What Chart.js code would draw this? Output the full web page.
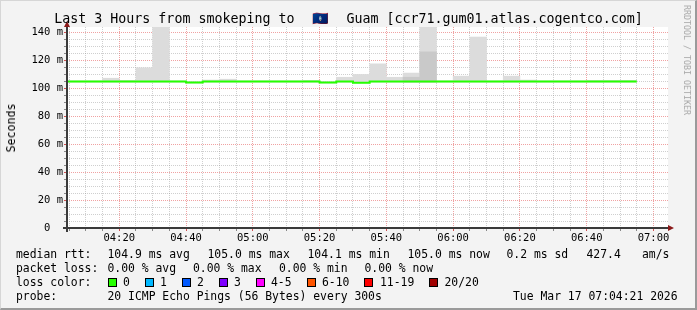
<!DOCTYPE html>
<html>
<head>
<meta charset="utf-8">
<script src="https://cdn.jsdelivr.net/npm/chart.js@4.4.1/dist/chart.umd.min.js"></script>
<style>
  html, body { margin:0; padding:0; }
  body { width:697px; height:310px; overflow:hidden; position:relative; background:#f3f3f3; font-family:"DejaVu Sans Mono", monospace; }
  #c { position:absolute; left:0; top:0; }
  .txt { position:absolute; white-space:pre; color:#000; font-size:11.4px; line-height:14px; }
  #title { position:absolute; left:0; top:11px; width:697px; text-align:center; font-size:13.3px; line-height:16px; white-space:pre; color:#000; }
  #flag { display:inline-block; width:36px; text-align:center; }
  .sq { position:absolute; width:9px; height:9px; box-sizing:border-box; border:1px solid #000; }
  #ylab { position:absolute; left:11px; top:127.5px; transform:translate(-50%,-50%) rotate(-90deg); font-size:11.6px; white-space:pre; color:#000; }
  #wm { position:absolute; left:687px; top:60px; transform:translate(-50%,-50%) rotate(90deg); font-size:8.3px; color:#a8a8a8; white-space:pre; }
  #frame { position:absolute; left:0; top:0; width:697px; height:310px; box-sizing:border-box; border-top:1px solid #d6d6d6; border-left:1px solid #d6d6d6; border-right:2px solid #9a9a9a; border-bottom:2px solid #9a9a9a; pointer-events:none; }
</style>
</head>
<body>
<canvas id="c" width="697" height="310"></canvas>
<div id="title">Last 3 Hours from smokeping to <span id="flag">🇬🇺</span> Guam [ccr71.gum01.atlas.cogentco.com]</div>
<div id="ylab">Seconds</div>
<div id="wm">RRDTOOL / TOBI OETIKER</div>
<div id="legend"></div>
<div id="frame"></div>
<script>
// ---- data (5-minute steps, start time of each step) ----
const slotStart = ['04:00','04:05','04:10','04:15','04:20','04:25','04:30','04:35','04:40','04:45',
                   '04:50','04:55','05:00','05:05','05:10','05:15','05:20','05:25','05:30','05:35',
                   '05:40','05:45','05:50','05:55','06:00','06:05','06:10','06:15','06:20','06:25',
                   '06:30','06:35','06:40','06:45','06:50'];
// median RTT (ms)
const medianRtt = [105.0,105.0,105.0,105.0,105.0,105.0,105.0,105.0,104.2,105.0,
                   105.0,105.0,105.0,105.0,105.0,105.0,104.2,105.0,104.1,105.0,
                   105.0,105.0,105.0,105.0,105.0,105.0,105.0,105.0,105.0,105.0,
                   105.0,105.0,105.0,105.0,105.0];
// smoke: min / max ping (ms)
const smokeMin = [104.5,104.5,104.5,104.5,104.5,104.5,104.5,104.5,103.8,104.5,
                  104.5,104.5,104.5,104.5,104.5,104.5,103.8,104.5,103.8,104.5,
                  104.5,104.5,104.5,104.5,104.5,104.5,104.5,104.5,104.5,104.5,
                  104.5,104.5,104.5,104.5,104.5];
const smokeMax = [105.4,105.4,105.4,107.3,105.8,114.8,152.0,105.4,104.8,106.0,
                  106.6,105.4,105.4,105.4,105.4,105.8,104.8,108.0,110.0,117.6,
                  108.0,111.0,152.0,105.4,108.8,136.8,105.4,108.8,106.0,105.4,
                  105.4,105.4,105.8,105.8,105.8];
// denser part of the smoke (ms), null where not visible
const smokeDense = [null,null,null,null,null,null,null,null,null,null,
                    null,null,null,null,null,null,null,null,null,null,
                    null,108.0,126.2,null,null,null,null,null,null,null,
                    null,null,null,null,null];
const yTickValues = [0,20,40,60,80,100,120,140];
const yTickLabels = ['0  ','20 m','40 m','60 m','80 m','100 m','120 m','140 m'];
const xTickLabels = ['04:20','04:40','05:00','05:20','05:40','06:00','06:20','06:40','07:00'];
const lossLabels = ['0','1','2','3','4-5','6-10','11-19','20/20'];
const lossColors = ['#26ff00','#00b8ff','#0059ff','#7e00ff','#ff00ff','#ff5500','#ff0000','#a00000'];

// ---- legend text (HTML) ----
const legendRows = [
  {y:254, items:[[16,'median rtt:'],[107.5,'104.9 ms avg'],[207.5,'105.0 ms max'],[307.5,'104.1 ms min'],[407.5,'105.0 ms now'],[506.5,'0.2 ms sd'],[586.5,'427.4'],[642,'am/s']]},
  {y:268, items:[[16,'packet loss:'],[107.5,'0.00 % avg'],[193,'0.00 % max'],[279,'0.00 % min'],[364.5,'0.00 % now']]},
  {y:282, items:[[16,'loss color:']]},
  {y:296, items:[[16,'probe:'],[107.5,'20 ICMP Echo Pings (56 Bytes) every 300s'],[513,'Tue Mar 17 07:04:21 2026']]}
];
const lossSquareX = [108,145.3,182.2,219,256.4,306.7,364.4,429];
const lossLabelX  = [123,160,197,234,271,322,380,444.5];
const legendEl = document.getElementById('legend');
legendRows.forEach(r => r.items.forEach(([x,t]) => {
  const d = document.createElement('div'); d.className='txt'; d.style.left = x+'px'; d.style.top = (r.y-7)+'px'; d.textContent = t; legendEl.appendChild(d);
}));
lossLabels.forEach((lab,i) => {
  const s = document.createElement('div'); s.className='sq'; s.style.left = lossSquareX[i]+'px'; s.style.top='278px'; s.style.background = lossColors[i]; legendEl.appendChild(s);
  const d = document.createElement('div'); d.className='txt'; d.style.left = lossLabelX[i]+'px'; d.style.top = (282-7)+'px'; d.textContent = lab; legendEl.appendChild(d);
});

// ---- chart ----
const toMin = s => { const [h,m] = s.split(':').map(Number); return (h-4)*60 + m; };
const STEP = 5;
const VIEW_START = 4 + 21/60, VIEW_END = VIEW_START + 180;
const starts = slotStart.map(toMin);
const xMajor = xTickLabels.map(toMin);

const smokeData = starts.map((t,i)=>({x:t+STEP/2, y:[smokeMin[i], smokeMax[i]]}));
const denseData = starts.map((t,i)=>({x:t+STEP/2, y: smokeDense[i]==null ? null : [smokeMin[i], smokeDense[i]]}));
const medianData = starts.map((t,i)=>({x:t, y:medianRtt[i]}));
medianData.push({x: starts[starts.length-1]+STEP, y: medianRtt[medianRtt.length-1]});

const MAJ = 'rgba(222,48,48,0.45)';
const MIN = 'rgba(140,140,140,0.42)';
const FONT = {family:'"DejaVu Sans Mono", monospace', size:10.5};

const frame = {
  id:'frame',
  beforeDraw(chart){
    const {ctx, chartArea:a} = chart;
    ctx.save();
    ctx.fillStyle = '#f3f3f3'; ctx.fillRect(0,0,chart.width,chart.height);
    ctx.fillStyle = '#ffffff'; ctx.fillRect(a.left, a.top, a.right-a.left, a.bottom-a.top);
    ctx.restore();
  },
  afterDraw(chart){
    const {ctx, chartArea:a} = chart;
    ctx.save();
    ctx.strokeStyle = '#3a3a3a'; ctx.lineWidth = 2;
    ctx.beginPath(); ctx.moveTo(a.left, a.bottom+4); ctx.lineTo(a.left, a.top-1); ctx.stroke();
    ctx.beginPath(); ctx.moveTo(a.left-4, a.bottom); ctx.lineTo(a.right+1, a.bottom); ctx.stroke();
    ctx.fillStyle = '#8b1a1a';
    ctx.beginPath(); ctx.moveTo(a.left, a.top-6); ctx.lineTo(a.left-3, a.top); ctx.lineTo(a.left+3, a.top); ctx.closePath(); ctx.fill();
    ctx.beginPath(); ctx.moveTo(a.right+6, a.bottom); ctx.lineTo(a.right, a.bottom-3); ctx.lineTo(a.right, a.bottom+3); ctx.closePath(); ctx.fill();
    ctx.restore();
  }
};

new Chart(document.getElementById('c'), {
  type:'bar',
  data:{ datasets:[
    { type:'line', label:'median rtt', data:medianData, borderColor:'#26ff00', borderWidth:2, stepped:true, pointRadius:0, fill:false, order:0, clip:0 },
    { type:'bar', label:'dense smoke', data:denseData, backgroundColor:'#c9c9c9', borderWidth:0, grouped:false, barPercentage:1, categoryPercentage:1, order:1, clip:0 },
    { type:'bar', label:'smoke', data:smokeData, backgroundColor:'#dcdcdc', borderWidth:0, grouped:false, barPercentage:1, categoryPercentage:1, order:2, clip:0 }
  ]},
  options:{
    responsive:false, animation:false, devicePixelRatio:1, events:[],
    layout:{ padding:{left:0, right:29, top:27, bottom:0} },
    plugins:{ legend:{display:false}, tooltip:{enabled:false}, title:{display:false} },
    scales:{
      x:{
        type:'linear', min:VIEW_START, max:VIEW_END, offset:false,
        afterFit: s => { s.height = 82; },
        afterBuildTicks: s => { const t=[]; for (let v=STEP; v<=VIEW_END; v+=STEP) t.push({value:v}); s.ticks = t; },
        grid:{ offset:false, color: c => (c.tick && xMajor.includes(c.tick.value)) ? MAJ : MIN, lineWidth:1, drawTicks:true, tickLength:3,
               tickColor: c => (c.tick && xMajor.includes(c.tick.value)) ? 'rgba(200,40,40,0.8)' : 'rgba(90,90,90,0.7)', tickBorderDash:[] },
        border:{ display:false, dash:[1,1] },
        ticks:{ autoSkip:false, maxRotation:0, minRotation:0, padding:1, color:'#000', font:FONT,
                callback: v => { const i = xMajor.indexOf(v); return i>=0 ? xTickLabels[i] : ''; } }
      },
      y:{
        type:'linear', min:0, max:144, offset:false,
        afterFit: s => { s.width = 67; },
        afterBuildTicks: s => { const t=[]; for (let v=0; v<=140; v+=5) t.push({value:v}); s.ticks = t; },
        grid:{ offset:false, color: c => (c.tick && c.tick.value % 20 === 0) ? MAJ : MIN, lineWidth:1, drawTicks:true, tickLength:3,
               tickColor: c => (c.tick && c.tick.value % 20 === 0) ? 'rgba(200,40,40,0.8)' : 'rgba(90,90,90,0.7)', tickBorderDash:[] },
        border:{ display:false, dash:[1,1] },
        ticks:{ autoSkip:false, padding:1, color:'#000', font:FONT,
                callback: v => { const i = yTickValues.indexOf(v); return i>=0 ? yTickLabels[i] : ''; } }
      }
    }
  },
  plugins:[frame]
});
</script>
</body>
</html>
